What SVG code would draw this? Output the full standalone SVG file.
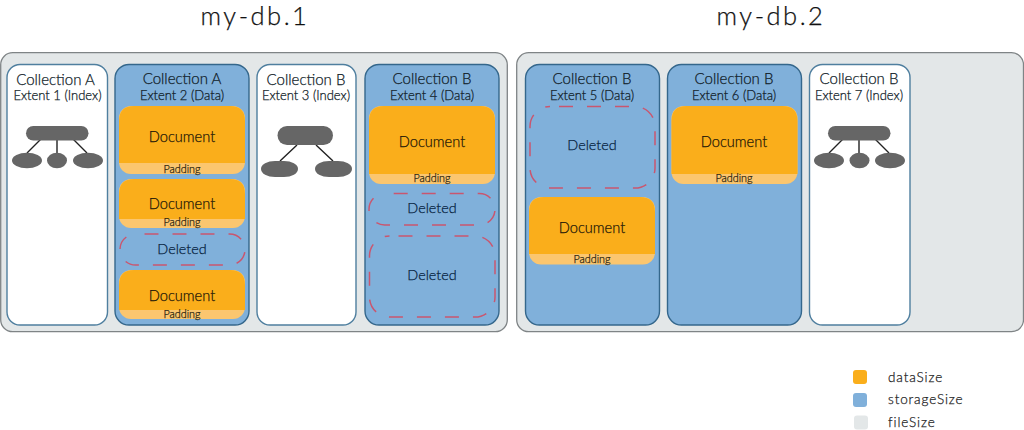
<svg xmlns="http://www.w3.org/2000/svg" width="1024" height="430" viewBox="0 0 1024 430">
<style>
text{font-family:Lato,"Noto Sans","Liberation Sans",sans-serif;text-anchor:middle;font-weight:300;stroke-width:.25px}
.title{font-size:25.500px;fill:#111;stroke:#111;letter-spacing:2.500px}
.h1{font-size:15px;fill:#101c28;stroke:#101c28}
.h2{font-size:13px;fill:#101c28;stroke:#101c28}
.doc{font-size:14.600px;fill:#1f1808;stroke:#1f1808}
.del{font-size:14.400px;fill:#06233f;stroke:#06233f}
.pad{font-size:10.800px;fill:#2a2410;stroke:#2a2410}
.leg{font-size:13.500px;text-anchor:start;fill:#222;stroke:#222;letter-spacing:.9px}
.file{fill:#e3e7e8;stroke:#7f8486;stroke-width:1.3}
.idx{fill:#fff;stroke:#4f7f9f;stroke-width:1.4}
.data{fill:#80b0da;stroke:#34678c;stroke-width:1.4}
.pbody{fill:#fbc66f}
.dbody{fill:#faae1b}
.gone{fill:none;stroke:#c9566f;stroke-width:1.5;stroke-dasharray:14 14;stroke-dashoffset:19}
.node{fill:#666}
.link{stroke:#222;stroke-width:1.4;fill:none}
</style>
<text class="title" x="255" y="25">my-db.1</text>
<text class="title" x="771" y="25">my-db.2</text>

<g id="file-1"><rect class="file" x="0.7" y="52.7" width="506.6" height="279" rx="12"/></g>
<g id="file-2"><rect class="file" x="516.7" y="52.7" width="506.8" height="279" rx="12"/></g>

<g id="extent-1">
<rect class="idx" x="7" y="64.5" width="100.5" height="260.5" rx="13"/>
<text class="h1" x="55.500" y="85">Collection A</text>
<text class="h2" x="57.500" y="100">Extent 1 (Index)</text>
</g>
<g id="extent-2">
<rect class="data" x="115" y="64.5" width="134" height="260.5" rx="14"/>
<text class="h1" x="182" y="84">Collection A</text>
<text class="h2" x="182" y="100">Extent 2 (Data)</text>
</g>
<g id="extent-3">
<rect class="idx" x="257" y="64.5" width="99" height="260.5" rx="13"/>
<text class="h1" x="306" y="85">Collection B</text>
<text class="h2" x="306" y="100">Extent 3 (Index)</text>
</g>
<g id="extent-4">
<rect class="data" x="365" y="64.5" width="134" height="260.5" rx="14"/>
<text class="h1" x="432" y="84">Collection B</text>
<text class="h2" x="432" y="100">Extent 4 (Data)</text>
</g>
<g id="extent-5">
<rect class="data" x="525.500" y="64.500" width="134" height="260.5" rx="14"/>
<text class="h1" x="592" y="84">Collection B</text>
<text class="h2" x="592" y="100">Extent 5 (Data)</text>
</g>
<g id="extent-6">
<rect class="data" x="667.500" y="64.500" width="134" height="260.5" rx="14"/>
<text class="h1" x="734" y="84">Collection B</text>
<text class="h2" x="734" y="100">Extent 6 (Data)</text>
</g>
<g id="extent-7">
<rect class="idx" x="809.500" y="64.500" width="100.500" height="260.5" rx="13"/>
<text class="h1" x="859" y="84">Collection B</text>
<text class="h2" x="859" y="100">Extent 7 (Index)</text>
</g>

<!-- index trees -->
<g id="connectors">
<path class="link" d="M41 139 27 153M57 139V153M73 139 87 153"/>
<path class="link" d="M297 145 280 161M316 145 333 161"/>
<path class="link" d="M843 139 829 153M859 139V153M875 139 889 153"/>
</g>
<g id="tree-1">
<rect class="node" x="26" y="126" width="62.500" height="14.500" rx="7.250"/>
<ellipse class="node" cx="27" cy="160.500" rx="15" ry="7.800"/>
<ellipse class="node" cx="57" cy="160.500" rx="10" ry="7.800"/>
<ellipse class="node" cx="88" cy="160.500" rx="15" ry="7.800"/>
</g>
<g id="tree-3">
<rect class="node" x="277.500" y="126" width="55.500" height="19" rx="9.500" ry="9.500"/>
<rect class="node" x="261" y="161" width="37" height="16" rx="14" ry="8"/>
<rect class="node" x="315" y="161" width="37" height="16" rx="14" ry="8"/>
</g>
<g id="tree-7">
<rect class="node" x="828" y="126" width="62.500" height="14.500" rx="7.250"/>
<ellipse class="node" cx="829" cy="160.500" rx="15" ry="7.800"/>
<ellipse class="node" cx="859.500" cy="160.500" rx="10" ry="7.800"/>
<ellipse class="node" cx="890" cy="160.500" rx="15" ry="7.800"/>
</g>

<g id="doc-2a">
<rect class="pbody" x="119" y="106" width="126" height="68" rx="12"/>
<path class="dbody" d="M134 106H230Q245 106 245 121V163H119V121Q119 106 134 106Z"/>
<text class="doc" x="182" y="142">Document</text>
<text class="pad" x="182" y="173">Padding</text>
</g>
<g id="doc-2b">
<rect class="pbody" x="119" y="179" width="126" height="49" rx="12"/>
<path class="dbody" d="M134 179H230Q245 179 245 194V219H119V194Q119 179 134 179Z"/>
<text class="doc" x="182" y="209">Document</text>
<text class="pad" x="182" y="226">Padding</text>
</g>
<g id="gone-2">
<rect class="gone" x="120" y="234" width="125" height="31" rx="15.500"/>
<text class="del" x="182" y="253.500">Deleted</text>
</g>
<g id="doc-2c">
<rect class="pbody" x="119" y="270" width="126" height="49" rx="12"/>
<path class="dbody" d="M134 270H230Q245 270 245 285V310H119V285Q119 270 134 270Z"/>
<text class="doc" x="182" y="301">Document</text>
<text class="pad" x="182" y="318">Padding</text>
</g>

<g id="doc-4">
<rect class="pbody" x="369" y="106" width="126" height="78" rx="12"/>
<path class="dbody" d="M384 106H480Q495 106 495 121V174H369V121Q369 106 384 106Z"/>
<text class="doc" x="432" y="147">Document</text>
<text class="pad" x="432" y="182">Padding</text>
</g>
<g id="gone-4a">
<rect class="gone" x="369" y="193.500" width="126" height="31.500" rx="15.700"/>
<text class="del" x="432" y="213">Deleted</text>
</g>
<g id="gone-4b">
<rect class="gone" x="369.500" y="236" width="125.500" height="81" rx="20"/>
<text class="del" x="432" y="280">Deleted</text>
</g>

<g id="gone-5">
<rect class="gone" x="530" y="106.500" width="125" height="81.500" rx="20"/>
<text class="del" x="592" y="150">Deleted</text>
</g>
<g id="doc-5">
<rect class="pbody" x="529" y="197" width="126" height="67.500" rx="12"/>
<path class="dbody" d="M544 197H640Q655 197 655 212V254H529V212Q529 197 544 197Z"/>
<text class="doc" x="592" y="233">Document</text>
<text class="pad" x="592" y="263">Padding</text>
</g>

<g id="doc-6">
<rect class="pbody" x="671.500" y="106" width="126" height="78" rx="12"/>
<path class="dbody" d="M686.500 106H782.500Q797.500 106 797.500 121V174H671.500V121Q671.500 106 686.500 106Z"/>
<text class="doc" x="734" y="147">Document</text>
<text class="pad" x="734" y="182">Padding</text>
</g>

<g id="legend">
<rect x="853" y="370" width="14" height="14" rx="3" fill="#faae1b"/>
<rect x="853" y="393" width="14" height="14" rx="3" fill="#80b0da"/>
<rect x="854" y="415.500" width="14" height="14" rx="3" fill="#e3e7e8"/>
<text class="leg" x="888" y="382">dataSize</text>
<text class="leg" x="888" y="404">storageSize</text>
<text class="leg" x="888" y="427">fileSize</text>
</g>
</svg>
